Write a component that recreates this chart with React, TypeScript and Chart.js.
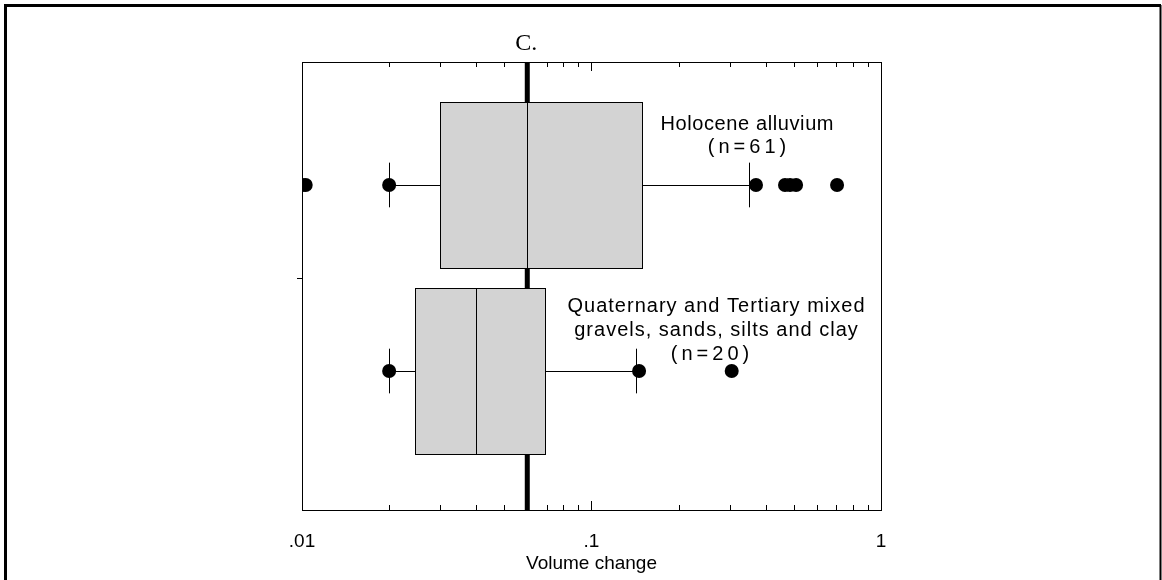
import React, { useEffect, useRef } from 'react';
import { Chart, registerables } from 'chart.js';

Chart.register(...registerables);

// ---- Data ----
const categories = ['Holocene alluvium', 'Quaternary and Tertiary mixed gravels, sands, silts and clay'];
const categoryLabelLines = [
  ['Holocene alluvium', '(n=61)'],
  ['Quaternary and Tertiary mixed', 'gravels, sands, silts and clay', '(n=20)'],
];
const groupPositions = [2, 1];
const lowerQuartiles = [0.03, 0.0245];
const medians = [0.06, 0.04];
const upperQuartiles = [0.15, 0.069];
const whiskerLows = [0.02, 0.02];
const whiskerHighs = [0.35, 0.142];
const holoceneDots = [0.01, 0.0103, 0.02, 0.37, 0.466, 0.485, 0.509, 0.705];
const quaternaryDots = [0.02, 0.146, 0.305];
const referenceValue = 0.06;
const referenceLabel = 'C.';
const xTickValues = [0.01, 0.1, 1];
const xTickLabels = ['.01', '.1', '1'];
const xMinorTickValues = [0.02, 0.03, 0.04, 0.05, 0.06, 0.07, 0.08, 0.09, 0.2, 0.3, 0.4, 0.5, 0.6, 0.7, 0.8, 0.9];
const yDividerTicks = [1.5];
const xTitle = 'Volume change';

// ---- Styles ----
const SANS = "'Liberation Sans', Arial, Helvetica, sans-serif";
const SERIF = "'Liberation Serif', 'Times New Roman', serif";
const BOX_FILL = '#d3d3d3';
const BOX_HALF = 0.445;
const WHISKER_CAP = 0.12;
const Y_MIN = 0.253;
const Y_MAX = 2.661;

const labelLayout = [
  { x: [747, 747], dy: [-55, -32], spacing: [0.6, 4] },
  { x: [716, 716, 710], dy: [-59, -35, -11], spacing: [1.0, 1.0, 4] },
];

const boxPlugin = {
  id: 'boxplots',
  beforeDatasetsDraw(chart: any) {
    const { ctx, chartArea, scales } = chart;
    const x = scales.x;
    const y = scales.y;
    ctx.save();
    // minor ticks inside top and bottom
    ctx.strokeStyle = '#000';
    ctx.lineWidth = 1;
    xMinorTickValues.forEach((v) => {
      const px = Math.round(x.getPixelForValue(v)) + 0.5;
      ctx.beginPath();
      ctx.moveTo(px, chartArea.bottom);
      ctx.lineTo(px, chartArea.bottom - 5);
      ctx.moveTo(px, chartArea.top);
      ctx.lineTo(px, chartArea.top + 5);
      ctx.stroke();
    });
    // reference line
    const rx = x.getPixelForValue(referenceValue);
    ctx.lineWidth = 5;
    ctx.beginPath();
    ctx.moveTo(rx, chartArea.top);
    ctx.lineTo(rx, chartArea.bottom);
    ctx.stroke();

    groupPositions.forEach((g, i) => {
      const yc = Math.round(y.getPixelForValue(g)) + 0.5;
      const yt = Math.round(y.getPixelForValue(g + BOX_HALF)) + 0.5;
      const yb = Math.round(y.getPixelForValue(g - BOX_HALF)) + 0.5;
      const ct = y.getPixelForValue(g + WHISKER_CAP);
      const cb = y.getPixelForValue(g - WHISKER_CAP);
      const x1 = Math.round(x.getPixelForValue(lowerQuartiles[i])) + 0.5;
      const x3 = Math.round(x.getPixelForValue(upperQuartiles[i])) + 0.5;
      const xm = Math.round(x.getPixelForValue(medians[i])) + 0.5;
      const wl = Math.round(x.getPixelForValue(whiskerLows[i])) + 0.5;
      const wh = Math.round(x.getPixelForValue(whiskerHighs[i])) + 0.5;
      ctx.lineWidth = 1;
      ctx.strokeStyle = '#000';
      // whiskers
      ctx.beginPath();
      ctx.moveTo(wl, yc);
      ctx.lineTo(x1, yc);
      ctx.moveTo(x3, yc);
      ctx.lineTo(wh, yc);
      ctx.moveTo(wl, ct);
      ctx.lineTo(wl, cb);
      ctx.moveTo(wh, ct);
      ctx.lineTo(wh, cb);
      ctx.stroke();
      // box
      ctx.fillStyle = BOX_FILL;
      ctx.fillRect(x1, yt, x3 - x1, yb - yt);
      ctx.strokeRect(x1, yt, x3 - x1, yb - yt);
      ctx.beginPath();
      ctx.moveTo(xm, yt);
      ctx.lineTo(xm, yb);
      ctx.stroke();
    });
    ctx.restore();
  },
  afterDraw(chart: any) {
    const { ctx, chartArea, scales } = chart;
    const x = scales.x;
    const y = scales.y;
    ctx.save();
    ctx.fillStyle = '#000';
    ctx.textBaseline = 'alphabetic';
    // category labels
    categoryLabelLines.forEach((lines, i) => {
      const yc = y.getPixelForValue(groupPositions[i]);
      const lay = labelLayout[i];
      lines.forEach((t, j) => {
        ctx.font = `20px ${SANS}`;
        (ctx as any).letterSpacing = `${lay.spacing[j]}px`;
        ctx.textAlign = 'center';
        ctx.fillText(t, lay.x[j] + lay.spacing[j] / 2, yc + lay.dy[j]);
      });
    });
    (ctx as any).letterSpacing = '0px';
    // reference label
    ctx.font = `24px ${SERIF}`;
    ctx.textAlign = 'left';
    ctx.fillText(referenceLabel, x.getPixelForValue(referenceValue) - 12, chartArea.top - 12);
    // outer frame
    ctx.strokeStyle = '#000';
    ctx.lineWidth = 3;
    ctx.beginPath();
    ctx.moveTo(5.5, 580);
    ctx.lineTo(5.5, 5.5);
    ctx.lineTo(1161, 5.5);
    ctx.stroke();
    ctx.lineWidth = 2;
    ctx.beginPath();
    ctx.moveTo(1160.5, 5);
    ctx.lineTo(1160.5, 580);
    ctx.stroke();
    ctx.restore();
  },
};

function majorTicks(scale: any) {
  scale.ticks = xTickValues.map((v) => ({ value: v }));
}

function tickLabel(value: any) {
  const idx = xTickValues.findIndex((v) => Math.abs(Math.log10(v) - Math.log10(Number(value))) < 1e-6);
  return idx >= 0 ? xTickLabels[idx] : '';
}

export default function App() {
  const canvasRef = useRef<HTMLCanvasElement | null>(null);

  useEffect(() => {
    const canvas = canvasRef.current;
    if (!canvas) return;
    const dotColor = '#000';
    const chart = new Chart(canvas, {
      type: 'scatter',
      data: {
        datasets: [
          {
            label: categories[0],
            data: holoceneDots.map((v) => ({ x: v, y: groupPositions[0] })),
            backgroundColor: dotColor,
            borderColor: dotColor,
            pointRadius: 7,
            borderWidth: 0,
          },
          {
            label: categories[1],
            data: quaternaryDots.map((v) => ({ x: v, y: groupPositions[1] })),
            backgroundColor: dotColor,
            borderColor: dotColor,
            pointRadius: 7,
            borderWidth: 0,
          },
        ],
      },
      options: {
        responsive: false,
        animation: false,
        devicePixelRatio: 1,
        layout: { padding: { left: 292, right: 281, top: 62, bottom: 0 } },
        plugins: { legend: { display: false }, tooltip: { enabled: false }, title: { display: false } },
        scales: {
          x: {
            type: 'logarithmic',
            position: 'bottom',
            min: 0.01,
            max: 1,
            afterBuildTicks: majorTicks,
            afterFit: (s: any) => { s.height = 70; },
            grid: { drawOnChartArea: false, drawTicks: true, tickLength: -9, color: '#000', tickColor: '#000', tickWidth: 1 },
            border: { display: true, color: '#000', width: 1 },
            ticks: {
              autoSkip: false,
              maxRotation: 0,
              padding: 29,
              color: '#000',
              font: { family: SANS, size: 19 },
              callback: tickLabel,
            },
            title: { display: true, text: xTitle, color: '#000', font: { family: SANS, size: 19 }, padding: { top: 0, bottom: 5 } },
          },
          x2: {
            type: 'logarithmic',
            position: 'top',
            min: 0.01,
            max: 1,
            afterBuildTicks: majorTicks,
            afterFit: (s: any) => { s.height = 0; },
            grid: { drawOnChartArea: false, drawTicks: true, tickLength: -9, color: '#000', tickColor: '#000' },
            border: { display: true, color: '#000', width: 1 },
            ticks: { display: false },
          },
          y: {
            type: 'linear',
            position: 'left',
            min: Y_MIN,
            max: Y_MAX,
            afterBuildTicks: (s: any) => { s.ticks = yDividerTicks.map((v) => ({ value: v })); },
            afterFit: (s: any) => { s.width = 10; },
            grid: { drawOnChartArea: false, drawTicks: true, tickLength: 5, color: '#000', tickColor: '#000' },
            border: { display: true, color: '#000', width: 1 },
            ticks: { display: false },
          },
          y2: {
            type: 'linear',
            position: 'right',
            min: Y_MIN,
            max: Y_MAX,
            afterFit: (s: any) => { s.width = 0; },
            grid: { display: false },
            border: { display: true, color: '#000', width: 1 },
            ticks: { display: false },
          },
        },
      } as any,
      plugins: [boxPlugin],
    });
    return () => chart.destroy();
  }, []);

  return (
    <div style={{ position: 'fixed', left: 0, top: 0, width: 1162, height: 580, background: '#fff' }}>
      <canvas ref={canvasRef} width={1162} height={580} style={{ display: 'block' }} />
    </div>
  );
}
